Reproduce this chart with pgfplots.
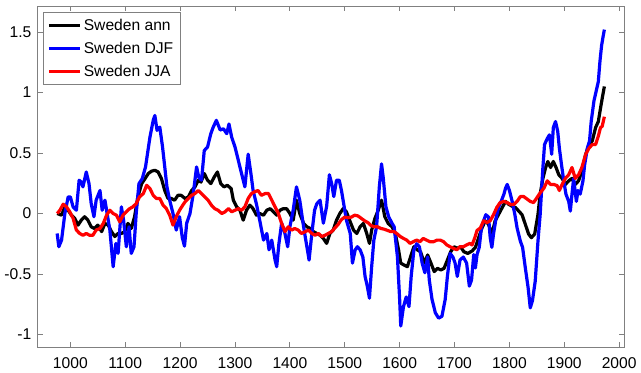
\documentclass[border=0pt]{standalone}
\usepackage{pgfplots}
\pgfplotsset{compat=1.18}
\usepackage{pgfplotstable}
\usepackage{fontspec}
\setmainfont{Liberation Sans}
\definecolor{axgray}{RGB}{128,128,128}

\pgfplotstableread{
x y
976 0
984 -0.014
990 0.055
996 0.027
1002 -0.014
1008 -0.04
1014 -0.096
1020 -0.055
1026 -0.027
1032 -0.055
1038 -0.11
1044 -0.124
1050 -0.096
1057 -0.15
1063 -0.082
1069 -0.096
1075 -0.15
1081 -0.19
1087 -0.165
1093 -0.165
1099 -0.15
1105 -0.082
1111 -0.124
1117 -0.027
1123 0.137
1130 0.247
1136 0.288
1142 0.33
1148 0.35
1154 0.357
1160 0.343
1166 0.288
1172 0.19
1178 0.124
1184 0.124
1190 0.11
1196 0.15
1202 0.15
1209 0.124
1215 0.137
1221 0.19
1227 0.22
1233 0.275
1238 0.26
1244 0.33
1250 0.275
1256 0.247
1262 0.30
1268 0.343
1274 0.247
1280 0.22
1286 0.233
1293 0.206
1297 0.11
1303 0.055
1309 0.027
1315 -0.055
1321 0.027
1327 0.069
1333 0.04
1339 -0.014
1345 0
1352 -0.014
1358 0.027
1364 0.04
1370 0.014
1376 -0.014
1382 0.027
1388 0.04
1394 0.04
1400 0
1406 -0.055
1412 0.11
1418 0
1425 -0.082
1431 -0.11
1437 -0.124
1443 -0.15
1449 -0.165
1455 -0.18
1461 -0.206
1467 -0.247
1473 -0.165
1479 -0.137
1485 -0.055
1491 0
1497 0.04
1503 0.014
1510 -0.069
1516 -0.137
1522 -0.165
1528 -0.11
1534 -0.082
1540 -0.165
1545 -0.247
1549 -0.137
1555 -0.04
1561 0.027
1567 0.11
1573 -0.027
1579 -0.082
1586 -0.11
1592 -0.165
1598 -0.30
1602 -0.41
1608 -0.426
1614 -0.44
1620 -0.357
1626 -0.275
1632 -0.30
1638 -0.316
1645 -0.41
1651 -0.343
1657 -0.41
1663 -0.48
1669 -0.453
1675 -0.467
1681 -0.453
1687 -0.385
1693 -0.316
1699 -0.275
1705 -0.288
1711 -0.275
1717 -0.316
1724 -0.33
1732 -0.31
1738 -0.28
1744 -0.20
1750 -0.12
1756 -0.06
1762 -0.09
1768 -0.17
1774 -0.06
1780 -0.01
1787 0.05
1793 0.10
1799 0.075
1805 0.06
1811 0.05
1817 0.02
1823 -0.01
1829 -0.09
1835 -0.17
1840 -0.20
1846 -0.17
1852 -0.01
1856 0.16
1861 0.29
1866 0.38
1870 0.43
1875 0.38
1880 0.43
1885 0.38
1890 0.32
1896 0.29
1902 0.24
1908 0.27
1914 0.29
1920 0.24
1926 0.27
1932 0.35
1939 0.49
1945 0.57
1951 0.60
1957 0.71
1962 0.76
1966 0.87
1969 0.95
1973 1.05
}\annual

\pgfplotstableread{
x y
976 -0.165
979 -0.275
984 -0.22
990 0
996 0.137
1000 0.137
1005 0.055
1011 0.027
1016 0.275
1020 0.26
1023 0.22
1029 0.343
1034 0.247
1038 0.082
1043 -0.027
1047 0.11
1054 0.19
1058 0.027
1063 0.11
1067 0
1072 -0.137
1078 -0.44
1083 -0.247
1087 -0.33
1093 0.055
1097 -0.055
1102 -0.275
1107 -0.11
1111 -0.33
1116 -0.275
1120 0
1125 0.247
1131 0.288
1137 0.385
1145 0.63
1151 0.77
1154 0.81
1158 0.687
1163 0.714
1168 0.55
1172 0.385
1176 0.22
1181 0.11
1187 0
1193 -0.137
1199 -0.027
1204 -0.2
1208 -0.27
1212 -0.08
1218 0
1224 0.165
1230 0.385
1234 0.30
1239 0.275
1244 0.52
1250 0.55
1256 0.66
1260 0.71
1266 0.77
1273 0.69
1279 0.70
1285 0.66
1289 0.74
1294 0.63
1300 0.55
1306 0.44
1312 0.33
1318 0.22
1324 0.49
1329 0.33
1333 0.19
1339 0.08
1345 -0.055
1352 -0.22
1358 -0.165
1362 -0.30
1367 -0.22
1373 -0.385
1376 -0.44
1380 -0.25
1385 -0.08
1391 -0.165
1396 -0.275
1400 -0.11
1406 0.027
1412 0.22
1418 0.11
1425 -0.11
1431 -0.275
1435 -0.385
1440 -0.165
1445 0.027
1449 0.08
1455 0.11
1461 -0.08
1467 0.06
1472 0.32
1476 0.25
1480 0.14
1485 0.275
1490 0.275
1494 0.19
1499 0.055
1503 -0.055
1510 -0.165
1514 -0.41
1519 -0.30
1523 -0.275
1528 -0.30
1533 -0.36
1537 -0.52
1541 -0.60
1545 -0.70
1549 -0.44
1553 -0.22
1558 -0.11
1563 0.22
1567 0.41
1570 0.30
1575 0.055
1580 -0.027
1586 -0.08
1590 -0.11
1596 -0.36
1600 -0.71
1602 -0.93
1607 -0.77
1612 -0.69
1617 -0.77
1621 -0.52
1626 -0.30
1631 -0.25
1636 -0.275
1641 -0.41
1646 -0.49
1651 -0.36
1654 -0.55
1659 -0.71
1665 -0.82
1671 -0.865
1677 -0.85
1683 -0.71
1687 -0.52
1692 -0.33
1697 -0.36
1701 -0.41
1705 -0.52
1710 -0.385
1716 -0.36
1722 -0.41
1727 -0.60
1731 -0.55
1735 -0.34
1738 -0.45
1741 -0.34
1745 -0.28
1749 -0.12
1753 -0.06
1757 -0.01
1762 -0.03
1765 -0.20
1768 -0.28
1771 -0.17
1776 -0.03
1780 0.05
1785 0.10
1790 0.16
1793 0.21
1796 0.24
1800 0.19
1805 0.10
1810 -0.01
1814 -0.12
1820 -0.23
1824 -0.28
1829 -0.45
1834 -0.61
1838 -0.78
1842 -0.72
1847 -0.56
1852 -0.23
1856 -0.01
1861 0.38
1864 0.57
1869 0.62
1873 0.65
1877 0.49
1880 0.71
1884 0.76
1888 0.68
1891 0.54
1895 0.40
1899 0.27
1903 0.16
1908 0.10
1911 0.02
1914 0.16
1917 0.29
1922 0.10
1925 0.19
1929 0.16
1934 0.27
1937 0.40
1942 0.54
1946 0.60
1949 0.76
1954 0.93
1958 1.01
1962 1.09
1965 1.26
1968 1.39
1971 1.47
1973 1.52
}\djf

\pgfplotstableread{
x y
976 0
981 0.027
987 0.077
993 0.055
999 0.014
1005 -0.04
1011 -0.137
1017 -0.165
1023 -0.18
1029 -0.165
1035 -0.18
1041 -0.18
1047 -0.137
1054 -0.124
1060 -0.082
1066 -0.014
1072 0.027
1078 0
1084 -0.014
1090 -0.069
1096 -0.014
1102 0.014
1108 0.04
1114 0.055
1120 0.082
1126 0.137
1133 0.165
1139 0.233
1145 0.206
1151 0.15
1157 0.124
1163 0.124
1169 0.069
1175 0.04
1181 -0.014
1187 -0.096
1193 -0.027
1199 0.027
1205 0.07
1209 0.096
1215 0.124
1221 0.15
1227 0.165
1233 0.19
1239 0.165
1245 0.137
1251 0.11
1257 0.069
1263 0.04
1269 0.027
1276 0
1282 0.014
1288 0.04
1294 0.014
1300 0.027
1306 0.04
1312 0.027
1318 0.055
1324 0.124
1330 0.165
1336 0.18
1342 0.19
1348 0.15
1355 0.165
1361 0.165
1367 0.11
1373 0.055
1379 0
1385 -0.082
1391 -0.15
1397 -0.11
1403 -0.137
1409 -0.124
1415 -0.137
1421 -0.165
1428 -0.15
1434 -0.137
1440 -0.165
1446 -0.18
1452 -0.165
1458 -0.19
1464 -0.18
1470 -0.165
1476 -0.15
1482 -0.12
1488 -0.09
1494 -0.05
1500 -0.03
1506 -0.035
1512 -0.03
1518 -0.014
1524 -0.02
1530 -0.04
1536 -0.06
1542 -0.075
1548 -0.1
1554 -0.11
1560 -0.11
1566 -0.124
1572 -0.13
1578 -0.14
1584 -0.15
1590 -0.15
1596 -0.17
1601 -0.19
1607 -0.206
1613 -0.22
1619 -0.247
1625 -0.233
1631 -0.22
1637 -0.233
1643 -0.206
1649 -0.22
1655 -0.233
1662 -0.233
1668 -0.22
1674 -0.22
1680 -0.233
1686 -0.26
1692 -0.275
1698 -0.288
1704 -0.30
1710 -0.275
1716 -0.275
1722 -0.26
1728 -0.247
1732 -0.26
1737 -0.20
1741 -0.14
1747 -0.12
1753 -0.06
1759 -0.075
1765 -0.06
1771 -0.01
1777 0.05
1783 0.09
1790 0.10
1796 0.09
1802 0.075
1808 0.075
1814 0.10
1820 0.14
1826 0.14
1832 0.12
1838 0.10
1844 0.09
1850 0.13
1856 0.17
1863 0.21
1869 0.27
1875 0.24
1881 0.24
1887 0.23
1891 0.19
1896 0.24
1902 0.29
1908 0.32
1914 0.38
1920 0.29
1926 0.32
1932 0.38
1939 0.49
1945 0.54
1951 0.57
1957 0.57
1962 0.64
1966 0.71
1969 0.72
1973 0.80
}\jja

\begin{document}
\begin{tikzpicture}
\begin{axis}[
  scale only axis,
  width=439.5pt, height=255.75pt,
  xmin=940, xmax=2009,
  ymin=-1.107, ymax=1.715,
  xtick={1000,1100,...,2000},
  ytick={-1,-0.5,0,0.5,1,1.5},
  xtick pos=both, ytick pos=both,
  tick align=inside,
  major tick length=4pt,
  axis line style={axgray, line width=0.6pt},
  every tick/.style={axgray, line width=0.6pt},
  tick label style={font=\fontsize{11.7}{14}\selectfont, black},
  /pgf/number format/assume math mode=true,
  /pgf/number format/1000 sep={},
  xticklabel style={yshift=-4pt},
  yticklabel style={xshift=-1pt},
  legend style={at={(axis description cs:0.0097,0.9815)}, anchor=north west,
    draw=axgray, line width=0.6pt, font=\fontsize{11.7}{14}\selectfont,
    inner xsep=3pt, inner ysep=2.5pt, row sep=3.3pt},
  legend cell align=left,
  legend image code/.code={\draw[#1, line width=2.2pt] (0pt,0pt) -- (23pt,0pt);},
  every axis plot/.append style={line width=2.4pt, line join=round},
]
\addplot[black, mark=none] table[x=x,y=y] {\annual};
\addplot[blue, mark=none] table[x=x,y=y] {\djf};
\addplot[red, mark=none] table[x=x,y=y] {\jja};
\legend{Sweden ann, Sweden DJF, Sweden JJA}
\end{axis}
\path ([yshift=4.5pt]current axis.north east);
\end{tikzpicture}
\end{document}
